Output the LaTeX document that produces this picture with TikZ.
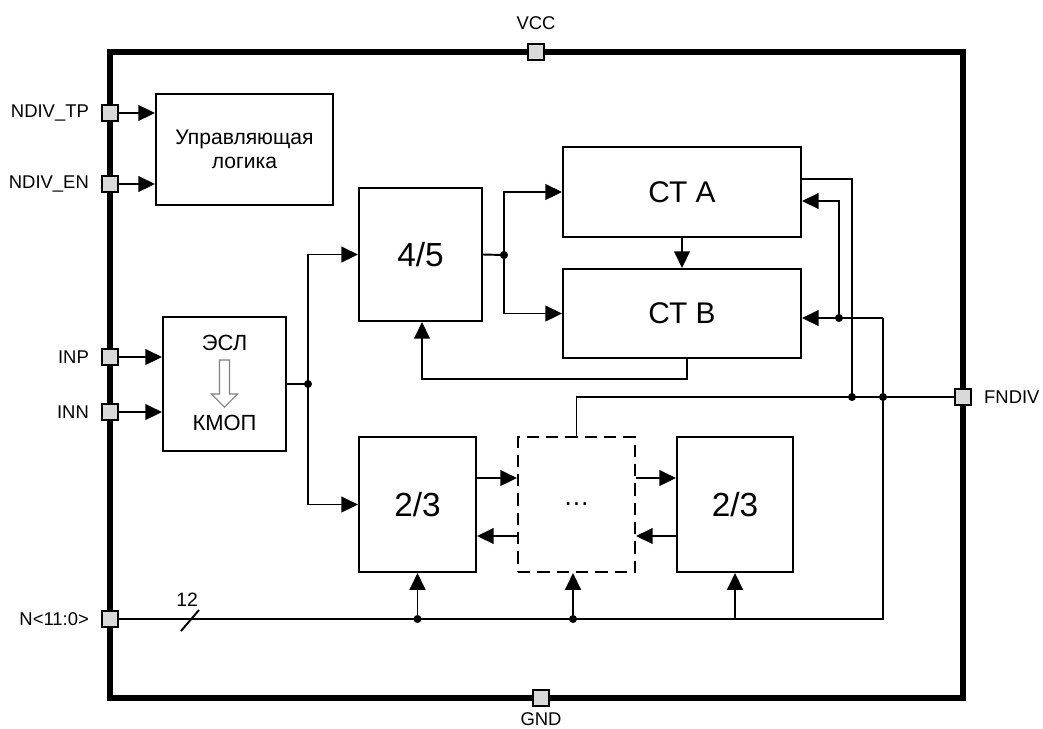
\documentclass[tikz,border=0pt]{standalone}
\usepackage{fontspec}
\setmainfont{Liberation Sans}
\usetikzlibrary{arrows.meta, positioning}

\begin{document}
\begin{tikzpicture}[x=0.02cm, y=-0.02cm,
    wire/.style={line width=1.1pt},
    sig/.style={wire, -{Triangle[length=9.5pt, width=9pt]}},
    block/.style={draw, line width=1.2pt, inner sep=0pt},
    pad/.style={draw, fill=black!15, line width=0.9pt, minimum size=0.32cm, inner sep=0pt},
    padlabel/.style={inner sep=0pt, font=\fontsize{10.5}{12}\selectfont},
    dot/.style={circle, fill, inner sep=0pt, minimum size=0.16cm}]
    \useasboundingbox (0,0) rectangle (1043,728);
    % Chip outline
    \draw[line width=3.5pt] (110,52) rectangle (963,698);
    % Pads
    \node[pad] (pTP) at (110,113) {};
    \node[pad] (pEN) at (110,184) {};
    \node[pad] (pINP) at (110,357) {};
    \node[pad] (pINN) at (110,412) {};
    \node[pad] (pN) at (110,619) {};
    \node[pad] (pVCC) at (536,52) {};
    \node[pad] (pGND) at (541,698) {};
    \node[pad] (pFN) at (963,397) {};
    \node[padlabel, left=0.24cm of pTP] {NDIV\_TP};
    \node[padlabel, left=0.24cm of pEN] {NDIV\_EN};
    \node[padlabel, left=0.24cm of pINP] {INP};
    \node[padlabel, left=0.24cm of pINN] {INN};
    \node[padlabel, left=0.24cm of pN] {N<11:0>};
    \node[padlabel, right=0.24cm of pFN] {FNDIV};
    \node[padlabel, above=0.27cm of pVCC] {VCC};
    \node[padlabel, below=0.1cm of pGND] {GND};
    % Blocks
    \node[block, minimum width=3.54cm, minimum height=2.22cm, align=center,
          font=\fontsize{12}{13.6}\selectfont] (logic) at (244.5,149.5) {Управляющая\\логика};
    \node[block, minimum width=2.46cm, minimum height=2.68cm] (esl) at (224.5,384) {};
    \node[block, minimum width=2.46cm, minimum height=2.66cm,
          font=\fontsize{19}{22}\selectfont] (div45) at (420.5,254.5) {4/5};
    \node[block, minimum width=4.76cm, minimum height=1.8cm,
          font=\fontsize{17}{20}\selectfont] (cta) at (682,192) {СТ А};
    \node[block, minimum width=4.76cm, minimum height=1.78cm,
          font=\fontsize{17}{20}\selectfont] (ctb) at (682,313.5) {СТ В};
    \node[block, minimum width=2.34cm, minimum height=2.7cm,
          font=\fontsize{19}{22}\selectfont] (d23a) at (417.5,504.5) {2/3};
    \node[block, dash pattern=on 7pt off 4pt, minimum width=2.34cm, minimum height=2.7cm,
          font=\fontsize{15}{17}\selectfont] (dotsbox) at (576.5,504.5) {…};
    \node[block, minimum width=2.32cm, minimum height=2.7cm,
          font=\fontsize{19}{22}\selectfont] (d23b) at (735,504.5) {2/3};
    % ECL -> CMOS inside the converter
    \node[font=\fontsize{12.5}{14}\selectfont] (eslTop) at (224.5,343) {ЭСЛ};
    \node[font=\fontsize{12.5}{14}\selectfont] (eslBot) at (224.5,423) {КМОП};
    \draw[black!50, line width=0.6pt, fill=white] (219.5,360) -- (229.5,360) -- (229.5,394)
        -- (237.5,394) -- (224.5,407) -- (211.5,394) -- (219.5,394) -- cycle;
    % Junctions
    \coordinate (jS) at (308,384);
    \coordinate (jD) at (504,255);
    \coordinate (jC) at (839,318);
    \coordinate (jR) at (883,318);
    \coordinate (jFa) at (852,397);
    \coordinate (jFb) at (883,397);
    \coordinate (fb) at (422,379);
    % Inputs
    \draw[sig] (pTP.east) -- (pTP -| logic.west);
    \draw[sig] (pEN.east) -- (pEN -| logic.west);
    \draw[sig] (pINP.east) -- (pINP -| esl.west);
    \draw[sig] (pINN.east) -- (pINN -| esl.west);
    % Converter output
    \draw[wire] (esl.east) -- (jS);
    \draw[sig] (jS) |- (div45.west);
    \draw[sig] (jS) |- (d23a.west);
    % 4/5 to counters
    \draw[wire] (div45.east) -- (jD);
    \draw[sig] (jD) |- (cta.west);
    \draw[sig] (jD) |- (ctb.west);
    \draw[sig] (cta.south) -- (ctb.north);
    \draw[sig] ([xshift=0.1cm]ctb.south) |- (fb) -- (fb |- div45.south);
    % Counter outputs / feedback
    \draw[wire] ([yshift=0.26cm]cta.east) -| (jFa);
    \draw[sig] (jC) |- ([yshift=-0.18cm]cta.east);
    \draw[sig] (jR) -- (jR -| ctb.east);
    % FNDIV
    \draw[wire] (dotsbox.north) |- (pFN.west);
    % 2/3 chain
    \draw[sig] ([yshift=0.53cm]d23a.east) -- ([yshift=0.53cm]dotsbox.west);
    \draw[sig] ([yshift=0.53cm]dotsbox.east) -- ([yshift=0.53cm]d23b.west);
    \draw[sig] ([yshift=-0.63cm]d23b.west) -- ([yshift=-0.63cm]dotsbox.east);
    \draw[sig] ([yshift=-0.63cm]dotsbox.west) -- ([yshift=-0.63cm]d23a.east);
    % Control bus
    \draw[wire] (pN.east) -| (jR);
    \draw[wire] (181,631) -- (199,610);
    \node[font=\fontsize{11}{13}\selectfont] (busw) at (187,600) {12};
    \draw[sig] (d23a.south |- pN) -- (d23a.south);
    \draw[sig] ([xshift=-0.07cm]dotsbox.south |- pN) -- ([xshift=-0.07cm]dotsbox.south);
    \draw[sig] (d23b.south |- pN) -- (d23b.south);
    % Dots
    \node[dot] at (jS) {};
    \node[dot] at (jD) {};
    \node[dot] at (jC) {};
    \node[dot] at (jFa) {};
    \node[dot] at (jFb) {};
    \node[dot] at (d23a.south |- pN) {};
    \node[dot] at ([xshift=-0.07cm]dotsbox.south |- pN) {};
\end{tikzpicture}
\end{document}
